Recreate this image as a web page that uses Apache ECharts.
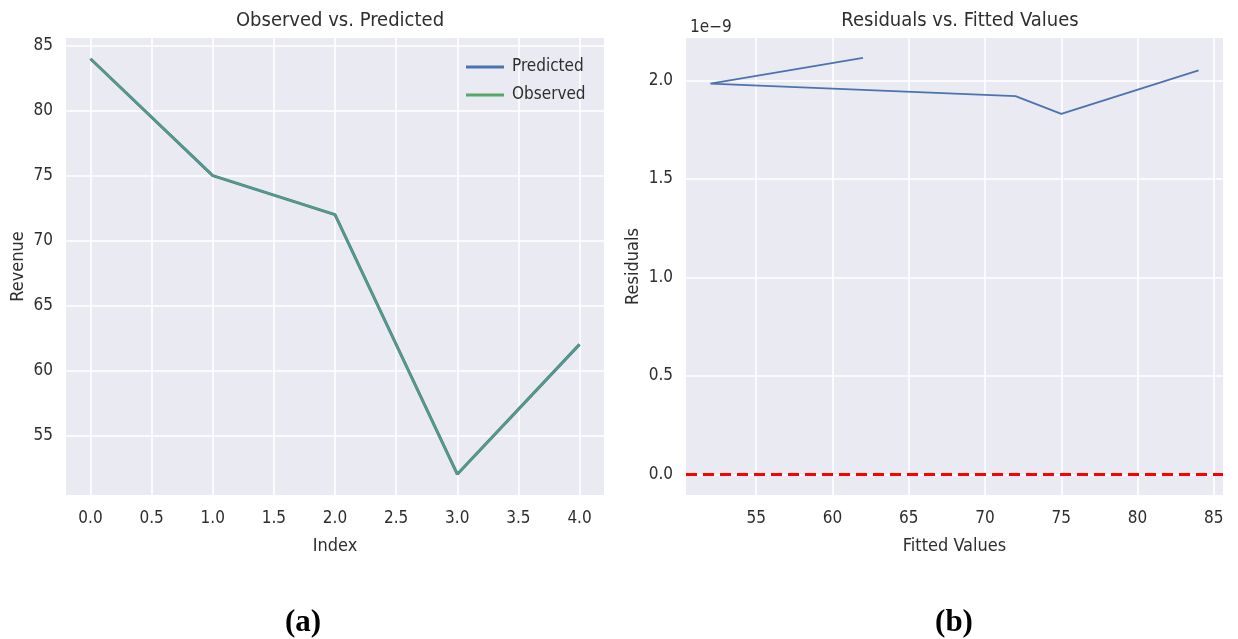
<!DOCTYPE html>
<html>
<head>
<meta charset="utf-8">
<script src="https://cdn.jsdelivr.net/npm/echarts@6/dist/echarts.min.js"></script>
<style>
html,body{margin:0;padding:0;background:#fff;}
#main{width:1238px;height:639px;}
</style>
</head>
<body>
<div id="main"></div>
<script>
// ---- data ----
const indexValues = [0, 1, 2, 3, 4];
const observed = [84, 75, 72, 52, 62];
const predicted = [84, 75, 72, 52, 62];
const fittedValues = [84, 75, 72, 52, 62];
const residuals = [2.051e-9, 1.830e-9, 1.920e-9, 1.983e-9, 2.114e-9];
const indexTicks = [0, 0.5, 1, 1.5, 2, 2.5, 3, 3.5, 4];
const revenueTicks = [55, 60, 65, 70, 75, 80, 85];
const fittedTicks = [55, 60, 65, 70, 75, 80, 85];
const residualTicks = [0, 0.5e-9, 1.0e-9, 1.5e-9, 2.0e-9];

const FONT = "'DejaVu Sans Condensed', 'DejaVu Sans', sans-serif";
const TXT = '#2e2e2e';

const chart = echarts.init(document.getElementById('main'), null, {renderer: 'canvas'});

function pairs(xs, ys) { return xs.map((x, i) => [x, ys[i]]); }

const gridBase = {show: true, backgroundColor: '#EAEAF2', borderWidth: 0, containLabel: false};
const splitLine = {show: true, lineStyle: {color: '#ffffff', width: 1.6}};
const axisLabelBase = {color: TXT, fontFamily: FONT, fontSize: 17};

const option = {
  animation: false,
  backgroundColor: '#ffffff',
  title: [
    {text: 'Observed vs. Predicted', left: 335, top: 6, textAlign: 'center',
     textStyle: {fontFamily: FONT, fontSize: 20, fontWeight: 'normal', color: TXT}},
    {text: 'Residuals vs. Fitted Values', left: 955, top: 6, textAlign: 'center',
     textStyle: {fontFamily: FONT, fontSize: 20, fontWeight: 'normal', color: TXT}},
    {text: '1e\u22129', left: 685, top: 14,
     textStyle: {fontFamily: FONT, fontSize: 17, fontWeight: 'normal', color: TXT}},
    {text: '(a)', left: 298, top: 602, textAlign: 'center',
     textStyle: {fontFamily: "'Liberation Serif', 'Times New Roman', serif", fontSize: 31, fontWeight: 'bold', color: '#000'}},
    {text: '(b)', left: 949, top: 602, textAlign: 'center',
     textStyle: {fontFamily: "'Liberation Serif', 'Times New Roman', serif", fontSize: 31, fontWeight: 'bold', color: '#000'}}
  ],
  legend: {
    data: ['Predicted', 'Observed'],
    orient: 'vertical',
    left: 461, top: 52,
    itemWidth: 38, itemHeight: 3, itemGap: 8,
    icon: 'rect',
    textStyle: {fontFamily: FONT, fontSize: 17, color: TXT, lineHeight: 20, padding: [0, 0, 0, 3]}
  },
  grid: [
    Object.assign({left: 66, top: 38, width: 538, height: 457}, gridBase),
    Object.assign({left: 686, top: 38, width: 537, height: 457}, gridBase)
  ],
  xAxis: [
    {type: 'value', gridIndex: 0, min: -0.2, max: 4.2,
     name: 'Index', nameLocation: 'middle', nameGap: 42,
     nameTextStyle: {fontFamily: FONT, fontSize: 18, color: TXT},
     axisLine: {show: false}, axisTick: {show: false, customValues: indexTicks},
     axisLabel: Object.assign({customValues: indexTicks, margin: 15, formatter: v => v.toFixed(1)}, axisLabelBase),
     splitLine: splitLine},
    {type: 'value', gridIndex: 1, min: 50.4, max: 85.6,
     name: 'Fitted Values', nameLocation: 'middle', nameGap: 42,
     nameTextStyle: {fontFamily: FONT, fontSize: 18, color: TXT},
     axisLine: {show: false}, axisTick: {show: false, customValues: fittedTicks},
     axisLabel: Object.assign({customValues: fittedTicks, margin: 15, formatter: v => String(Math.round(v))}, axisLabelBase),
     splitLine: splitLine}
  ],
  yAxis: [
    {type: 'value', gridIndex: 0, min: 50.4, max: 85.6,
     name: 'Revenue', nameLocation: 'middle', nameGap: 39,
     nameTextStyle: {fontFamily: FONT, fontSize: 18, color: TXT},
     axisLine: {show: false}, axisTick: {show: false, customValues: revenueTicks},
     axisLabel: Object.assign({customValues: revenueTicks, margin: 13, formatter: v => String(Math.round(v))}, axisLabelBase),
     splitLine: splitLine},
    {type: 'value', gridIndex: 1, min: -0.105e-9, max: 2.215e-9,
     name: 'Residuals', nameLocation: 'middle', nameGap: 44,
     nameTextStyle: {fontFamily: FONT, fontSize: 18, color: TXT},
     axisLine: {show: false}, axisTick: {show: false, customValues: residualTicks},
     axisLabel: Object.assign({customValues: residualTicks, margin: 13, formatter: v => (v / 1e-9).toFixed(1)}, axisLabelBase),
     splitLine: splitLine}
  ],
  series: [
    {name: 'Predicted', type: 'line', xAxisIndex: 0, yAxisIndex: 0,
     data: pairs(indexValues, predicted), showSymbol: false, symbol: 'none',
     color: '#4C72B0', lineStyle: {color: '#4C72B0', width: 3}, z: 2},
    {name: 'Observed', type: 'line', xAxisIndex: 0, yAxisIndex: 0,
     data: pairs(indexValues, observed), showSymbol: false, symbol: 'none',
     color: '#55A868', lineStyle: {color: '#55A868', width: 2, opacity: 0.85}, z: 3},
    {name: 'Residuals', type: 'line', xAxisIndex: 1, yAxisIndex: 1,
     data: pairs(fittedValues, residuals), showSymbol: false, symbol: 'none',
     lineStyle: {color: '#4C72B0', width: 1.8}, z: 2,
     markLine: {silent: true, symbol: 'none', label: {show: false},
       lineStyle: {color: '#ff0000', width: 3, type: [11, 6]},
       data: [{yAxis: 0}]}}
  ]
};
chart.setOption(option);
</script>
</body>
</html>
